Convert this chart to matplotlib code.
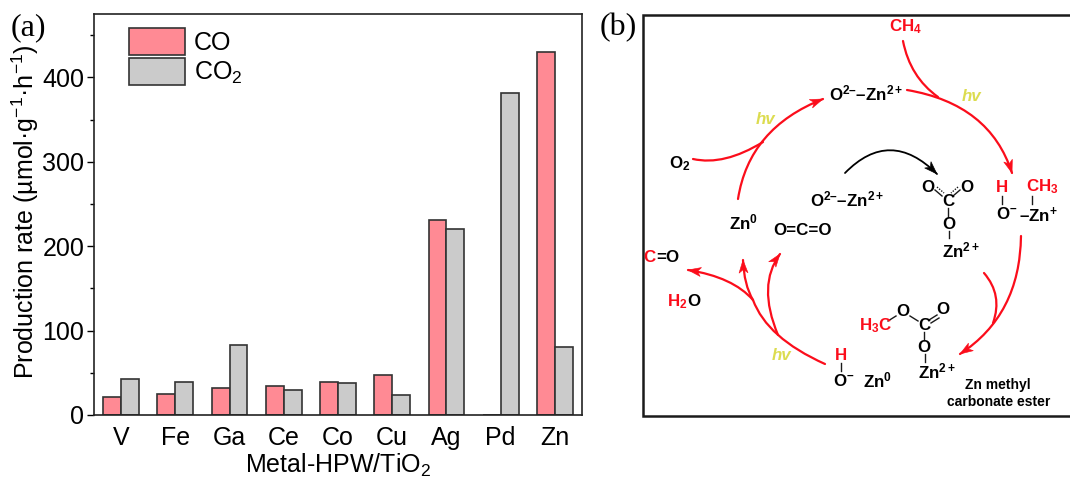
import numpy as np
import matplotlib
matplotlib.use('Agg')
from matplotlib import pyplot as plt
from matplotlib.patches import PathPatch, Polygon
from matplotlib.path import Path

plt.rcParams['font.family'] = ['Liberation Sans', 'DejaVu Sans']
plt.rcParams['mathtext.fontset'] = 'custom'
plt.rcParams['mathtext.rm'] = 'Liberation Sans'
plt.rcParams['mathtext.bf'] = 'Liberation Sans:bold'
plt.rcParams['mathtext.it'] = 'Liberation Sans:italic'
plt.rcParams['mathtext.default'] = 'rm'

metals = ['V', 'Fe', 'Ga', 'Ce', 'Co', 'Cu', 'Ag', 'Pd', 'Zn']
co_rate = [21, 25, 32, 34, 39, 47, 231, 0, 430]
co2_rate = [43, 39, 83, 30, 38, 24, 220, 381, 80]

W, H = 1070, 478
RED = '#fb0d1b'
YEL = '#dcdc50'
INK = '#1a1a1a'

fig = plt.figure(figsize=(W / 100, H / 100), dpi=100)

# --- (a) bar chart, axes box given in pixels ---
left, right, top, bottom = 94, 582, 14, 415
ax = fig.add_axes([left / W, 1 - bottom / H, (right - left) / W, (bottom - top) / H])
x = np.arange(len(metals))
bw = 0.33
edge = '#333333'
ax.bar(x - bw / 2, co_rate, bw, color='#ff8a94', edgecolor=edge, linewidth=1.2, label='CO')
ax.bar(x + bw / 2, co2_rate, bw, color='#cbcbcb', edgecolor=edge, linewidth=1.2, label='CO$_2$')
ax.set_xlim(-0.5, 8.5)
ax.set_ylim(0, 475)
ax.set_xticks(x, metals)
ax.set_yticks(range(0, 401, 100))
ax.set_yticks(range(50, 451, 100), minor=True)
ax.tick_params(axis='x', length=0, labelsize=18, pad=8)
ax.tick_params(axis='y', which='major', length=5, width=1, labelsize=18, pad=2)
ax.tick_params(axis='y', which='minor', length=3, width=1)
for s in ax.spines.values():
    s.set_linewidth(1.2)
    s.set_color('#222222')
ax.legend(loc='upper left', bbox_to_anchor=(35 / 488, 1 - 14 / 401), frameon=False, fontsize=18,
          handlelength=2.25, handleheight=1.26, labelspacing=0.14, borderpad=0, borderaxespad=0,
          handletextpad=0.35)

# --- overlay in pixel coordinates for the labels and scheme (b) ---
ov = fig.add_axes([0, 0, 1, 1], facecolor='none')
ov.set_xlim(0, W)
ov.set_ylim(H, 0)
ov.axis('off')


def label(px, py, s, color='black', size=12.2, weight='bold', **kw):
    ov.text(px, py, s, color=color, fontsize=size, fontweight=weight, ha='center', va='center', **kw)


def curve(p0, c, p1, color=RED, lw=1.6, head=False):
    ov.add_patch(PathPatch(Path([p0, c, p1], [Path.MOVETO, Path.CURVE3, Path.CURVE3]),
                           fc='none', ec=color, lw=lw, capstyle='round'))
    if head:
        d = np.array(p1, float) - np.array(c, float)
        d = d / np.hypot(*d)
        n = np.array([-d[1], d[0]])
        tip = np.array(p1, float)
        ov.add_patch(Polygon([tip, tip - 13 * d + 4.5 * n, tip - 9.5 * d, tip - 13 * d - 4.5 * n],
                             closed=True, fc=color, ec=color, lw=0.4))


label(28, 28, '(a)', size=23, weight='normal', family='Liberation Serif')
label(618, 28, '(b)', size=23, weight='normal', family='Liberation Serif')
ov.text(25, 212, 'Production rate (µmol·g$^{-1}$·h$^{-1}$)', rotation=90, fontsize=18, ha='center', va='center')
ov.text(338, 465, 'Metal-HPW/TiO$_2$', fontsize=18, ha='center', va='center')

# scheme frame
ov.plot([1070, 643, 643, 1070], [15, 15, 416, 416], color=INK, lw=1.8, solid_joinstyle='miter')

# red arrows
curve((738, 199), (749, 128), (823, 99), head=True)
curve((693, 159), (724, 166), (763, 142))
curve((903, 41), (910, 77), (938, 97))
curve((907, 90), (990, 104), (1012, 173), head=True)
curve((1021, 236), (1020, 315), (960, 354), head=True)
curve((984, 273), (1003, 295), (993, 323))
curve((825, 364), (767, 338), (753, 300))
curve((753, 300), (733, 277), (688, 270), head=True)
curve((753, 300), (744, 285), (743, 260), head=True)
curve((778, 335), (757, 285), (780, 254), head=True)
curve((845, 173), (890, 127), (937, 174), color='black', lw=1.3, head=True)

# species
label(906, 27, 'CH$_\\mathbf{4}$', RED)
label(866, 93, 'O$^{\\mathbf{2–}}$–Zn$^{\\mathbf{2+}}$')
label(847, 199, 'O$^{\\mathbf{2–}}$–Zn$^{\\mathbf{2+}}$')
label(680, 164, 'O$_\\mathbf{2}$')
label(743, 222, 'Zn$^\\mathbf{0}$')
label(803, 230, 'O=C=O')
for hx, hy in [(766, 119), (972, 96), (782, 356)]:
    label(hx, hy, 'hv', YEL, style='italic')

# carbonate on Zn2+
label(928, 188, 'O')
label(967, 188, 'O')
label(948, 202, 'C')
label(949, 224, 'O')
label(961, 250, 'Zn$^{\\mathbf{2+}}$')
ov.plot([949, 949], [231, 238], color=INK, lw=1)
ov.plot([948, 948], [208, 217], color=INK, lw=1)
ov.plot([935, 942], [190, 196], color=INK, lw=1)
ov.plot([937, 944], [187, 193], color=INK, lw=1, ls=(0, (1, 1)))
ov.plot([960, 953], [190, 196], color=INK, lw=1)
ov.plot([958, 951], [187, 193], color=INK, lw=1, ls=(0, (1, 1)))

# methane adduct
label(1002, 187, 'H', RED)
label(1042, 187, 'CH$_\\mathbf{3}$', RED)
ov.plot([1002, 1002], [196, 204], color=INK, lw=1)
ov.plot([1032, 1032], [196, 204], color=INK, lw=1)
label(1007, 214, 'O$^{\\mathbf{–}}$')
label(1038, 215, '–Zn$^{\\mathbf{+}}$')

# lower left products
label(649, 258, 'C', RED)
label(668, 258, '=O')
label(677, 302, 'H$_\\mathbf{2}$', RED)
label(694, 302, 'O')
label(841, 356, 'H', RED)
ov.plot([841, 841], [363, 371], color=INK, lw=1)
label(844, 381, 'O$^{\\mathbf{–}}$')
label(877, 380, 'Zn$^\\mathbf{0}$')

# methyl carbonate ester
label(876, 326, 'H$_\\mathbf{3}$C', RED)
label(903, 312, 'O')
label(924, 326, 'C')
label(943, 310, 'O')
label(924, 347, 'O')
label(937, 371, 'Zn$^{\\mathbf{2+}}$')
ov.plot([888, 896], [321, 316], color=INK, lw=1)
ov.plot([910, 918], [316, 321], color=INK, lw=1)
ov.plot([929, 937], [320, 315], color=INK, lw=1)
ov.plot([931, 939], [323, 318], color=INK, lw=1)
ov.plot([924, 924], [332, 340], color=INK, lw=1)
ov.plot([925, 925], [354, 362], color=INK, lw=1)
label(998, 385, 'Zn methyl', size=10)
label(999, 402, 'carbonate ester', size=10)

fig.savefig('out.png', dpi=100)
